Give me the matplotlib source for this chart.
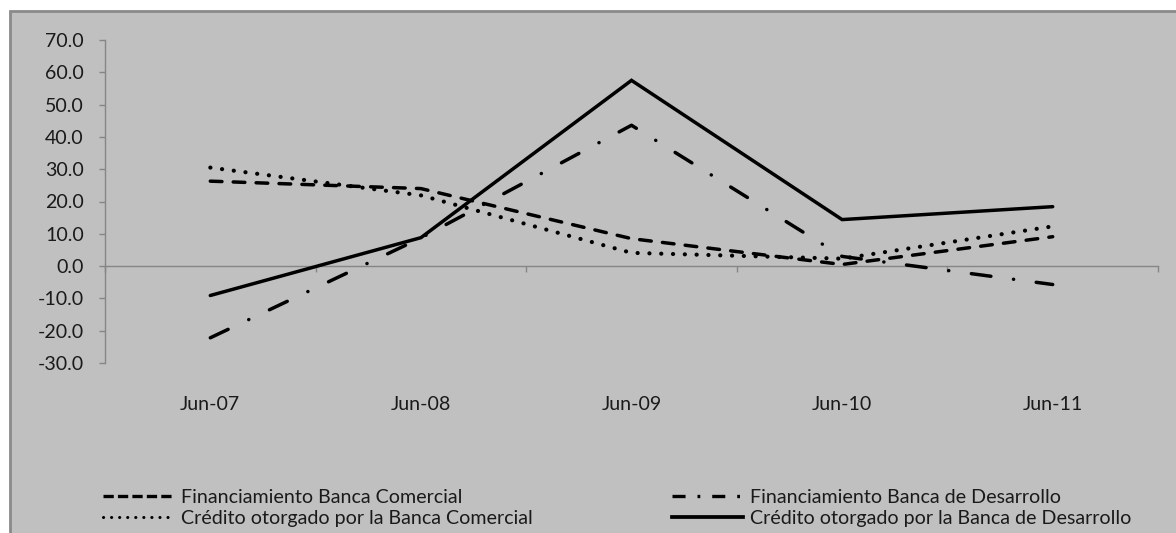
import matplotlib
matplotlib.use("Agg")
import matplotlib.pyplot as plt
from matplotlib.lines import Line2D
from matplotlib.patches import Rectangle
import matplotlib.transforms as mtransforms

plt.rcParams['font.family'] = ['Lato', 'DejaVu Sans']
plt.rcParams['lines.scale_dashes'] = False

categories = ["Jun-07", "Jun-08", "Jun-09", "Jun-10", "Jun-11"]
fin_comercial = [26.3, 24.0, 8.5, 0.5, 9.1]
fin_desarrollo = [-22.2, 8.7, 43.6, 3.0, -5.7]
cred_comercial = [30.5, 21.9, 4.1, 2.3, 12.3]
cred_desarrollo = [-9.1, 8.8, 57.5, 14.4, 18.4]

labels = ["Financiamiento Banca Comercial",
          "Financiamiento Banca de Desarrollo",
          "Crédito otorgado por la Banca Comercial",
          "Crédito otorgado por la Banca de Desarrollo"]
yticks = [-30, -20, -10, 0, 10, 20, 30, 40, 50, 60, 70]

W, H = 1176, 533
fig = plt.figure(figsize=(W / 100, H / 100), dpi=100, facecolor='white')

BG = '#C0C0C0'
AX = '#868686'
FS = 14.1
fig.patches.append(Rectangle((9.5 / W, -0.02), 1.05, 1 - 11 / H + 0.02,
                             transform=fig.transFigure, facecolor=BG,
                             edgecolor='#8A8A8A', lw=2.0, zorder=-10))

left, right, top, bottom = 105, 1158, 40, 363
ax = fig.add_axes([left / W, 1 - bottom / H, (right - left) / W, (bottom - top) / H])
ax.set_facecolor('none')
ax.set_zorder(2)

x = list(range(len(categories)))
lw = 2.5
ax.plot(x, fin_comercial, color='black', lw=lw, linestyle=(0, (8.4, 8.1)),
        dash_capstyle='round', solid_capstyle='round', zorder=3)
ax.plot(x, fin_desarrollo, color='black', lw=lw, linestyle=(0, (14.2, 16.4, 0.1, 16.4)),
        dash_capstyle='round', solid_capstyle='round', zorder=3)
ax.plot(x, cred_comercial, color='black', lw=3.0, linestyle=(0, (0.1, 8.4)),
        dash_capstyle='round', zorder=3)
ax.plot(x, cred_desarrollo, color='black', lw=lw, linestyle='-',
        solid_capstyle='round', solid_joinstyle='miter', zorder=3)

ax.set_xlim(-0.5, len(categories) - 0.5)
ax.set_ylim(-30, 70)
ax.set_yticks(yticks)
ax.set_yticklabels([f"{v:.1f}" for v in yticks], fontsize=FS, color='#1a1a1a')
ax.tick_params(axis='y', direction='out', length=4.3, width=1.0, color=AX, pad=11)

ax.spines['left'].set_color(AX)
ax.spines['left'].set_linewidth(1.0)
ax.spines['bottom'].set_position(('data', 0))
ax.spines['bottom'].set_color(AX)
ax.spines['bottom'].set_linewidth(1.0)
ax.spines['top'].set_visible(False)
ax.spines['right'].set_visible(False)

ax.set_xticks([i - 0.5 for i in range(len(categories) + 1)])
ax.set_xticklabels([])
ax.tick_params(axis='x', direction='out', length=4.3, width=1.0, color=AX)

trans = mtransforms.blended_transform_factory(ax.transData, ax.transAxes)
for i, c in enumerate(categories):
    ax.text(i, -42 / (bottom - top), c, transform=trans, ha='center', va='center',
            fontsize=FS, color='#1a1a1a')

# legend proxies
h_fc = Line2D([], [], color='black', lw=2.4, linestyle=(0, (7.4, 3.0)))
h_fd = Line2D([], [], color='black', lw=2.4, linestyle=(0, (9.4, 8.6, 2.0, 8.6)))
h_cc = Line2D([], [], color='black', lw=2.2, linestyle=(0, (0.1, 5.7)), dash_capstyle='round')
h_cd = Line2D([], [], color='black', lw=2.7, linestyle='-')

common = dict(frameon=False, fontsize=FS, handlelength=3.6, handletextpad=0.4,
              borderpad=0, borderaxespad=0, labelspacing=0.18, loc='center left',
              labelcolor='#1a1a1a')
leg1 = fig.legend([h_fc, h_cc], [labels[0], labels[2]],
                  bbox_to_anchor=(103 / W, 1 - 508 / H), **common)
leg2 = fig.legend([h_fd, h_cd], [labels[1], labels[3]],
                  bbox_to_anchor=(672 / W, 1 - 508 / H), **common)

fig.savefig('out.png', dpi=100, facecolor='white')
